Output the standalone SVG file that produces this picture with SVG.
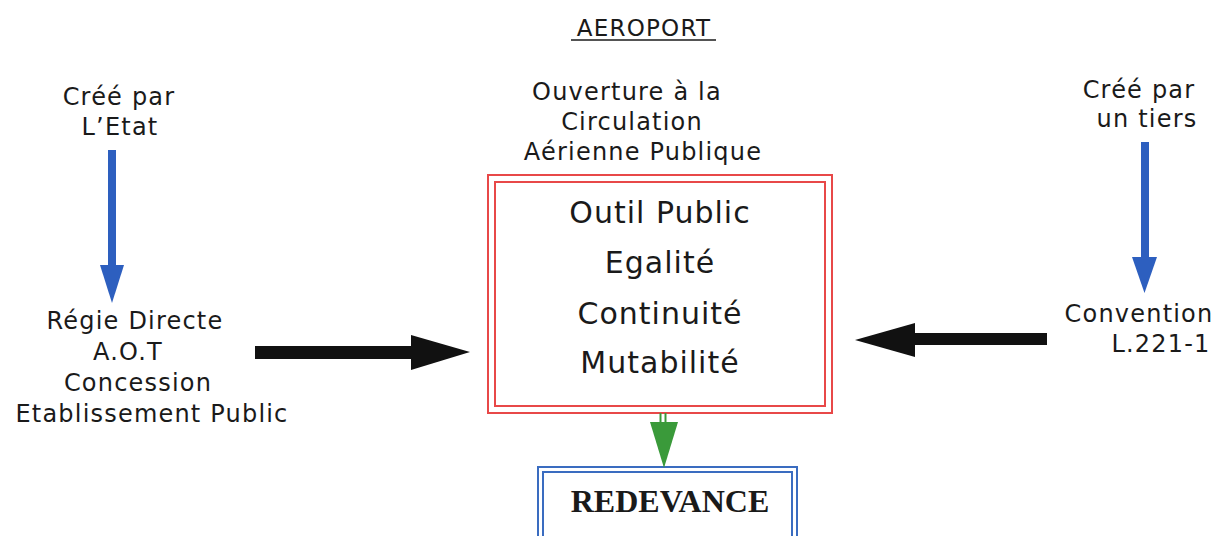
<svg xmlns="http://www.w3.org/2000/svg" width="1224" height="536" viewBox="0 0 1224 536">
<style>
.t{font-family:"DejaVu Sans",Verdana,sans-serif;font-size:24px;letter-spacing:1.2px;fill:#1a1a1a;text-anchor:middle}
.b{font-family:"DejaVu Sans",Verdana,sans-serif;font-size:30px;letter-spacing:1px;fill:#1a1a1a;text-anchor:middle}
.r{font-family:"Liberation Serif","Times New Roman",serif;font-size:32px;font-weight:bold;fill:#1a1a1a;text-anchor:middle}
.red{fill:none;stroke:#e84848;stroke-width:2}
.blu{fill:none;stroke:#3a6cc0;stroke-width:2}
.ba{fill:#2d5fbf}
.ka{fill:#111}
</style>
<rect width="1224" height="536" fill="#fff"/>
<g id="title">
<text class="t" x="644" y="36" style="font-size:23px">AEROPORT</text>
<line x1="571" y1="40" x2="716" y2="40" stroke="#1a1a1a" stroke-width="1.5"/>
</g>
<g id="left-top">
<text class="t" x="119" y="105">Créé par</text>
<text class="t" x="120" y="135">L’Etat</text>
</g>
<g id="left-bottom">
<text class="t" x="135" y="329">Régie Directe</text>
<text class="t" x="128" y="360">A.O.T</text>
<text class="t" x="138" y="391">Concession</text>
<text class="t" x="152" y="422">Etablissement Public</text>
</g>
<g id="right-top">
<text class="t" x="1139" y="98">Créé par</text>
<text class="t" x="1147" y="127">un tiers</text>
</g>
<g id="right-bottom">
<text class="t" x="1139" y="322">Convention</text>
<text class="t" x="1161" y="352">L.221-1</text>
</g>
<g id="center">
<text class="t" x="627" y="100">Ouverture à la</text>
<text class="t" x="632" y="130">Circulation</text>
<text class="t" x="643" y="160">Aérienne Publique</text>
<rect class="red" x="488" y="175" width="344" height="238"/>
<rect class="red" x="495" y="182" width="330" height="224"/>
<text class="b" x="660" y="223">Outil Public</text>
<text class="b" x="660" y="273">Egalité</text>
<text class="b" x="660" y="324">Continuité</text>
<text class="b" x="660" y="373">Mutabilité</text>
</g>
<g id="redevance">
<rect class="blu" x="538" y="467" width="259" height="80"/>
<rect class="blu" x="543" y="472" width="249" height="80"/>
<text class="r" x="670" y="512">REDEVANCE</text>
</g>
<g id="connectors">
<rect class="ba" x="108" y="150" width="8" height="116"/>
<polygon class="ba" points="100,265 124,265 112,303"/>
<rect class="ba" x="1141" y="142" width="8" height="116"/>
<polygon class="ba" points="1132,257 1157,257 1144.5,293"/>
<rect class="ka" x="255" y="346" width="160" height="13"/>
<polygon class="ka" points="411,335 470,352 411,370"/>
<rect class="ka" x="910" y="333" width="137" height="12"/>
<polygon class="ka" points="915,323 855,340 915,357"/>
<line x1="660.5" y1="413" x2="660.5" y2="424" stroke="#3a9a3a" stroke-width="2"/>
<line x1="665.5" y1="413" x2="665.5" y2="424" stroke="#3a9a3a" stroke-width="2"/>
<polygon points="650,422 678,422 664,468" fill="#3a9a3a"/>
</g>
</svg>
